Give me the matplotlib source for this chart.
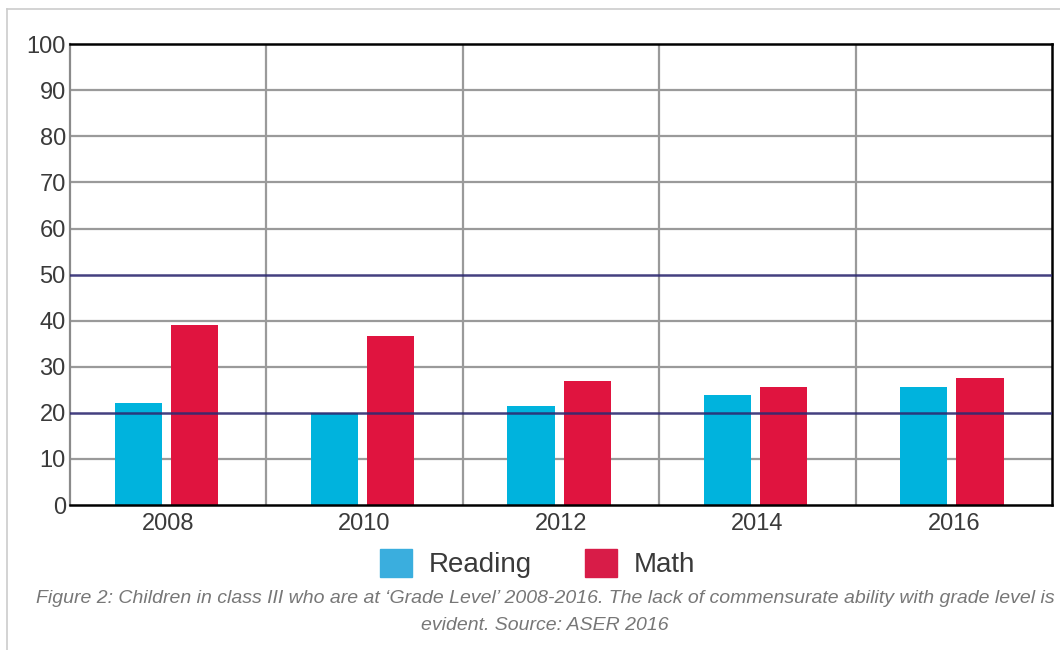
import numpy as np
import matplotlib
matplotlib.use("Agg")
from matplotlib import pyplot as plt, patches

years = ["2008", "2010", "2012", "2014", "2016"]
reading = [22.1, 20.0, 21.5, 23.9, 25.7]
math_vals = [39.0, 36.7, 27.0, 25.7, 27.6]
ref_levels = [20, 50]

sans = ["Liberation Sans", "DejaVu Sans"]
reading_col = "#00b3dd"
math_col = "#e0143f"
grid_col = "#9a9a9a"

fig = plt.figure(figsize=(10.6, 6.5), dpi=100)
ax = fig.add_axes([0.066, 0.223, 0.9265, 0.709])

x = np.arange(len(years))
w = 0.24
off = 0.143
ax.bar(x - off - 0.01, reading, width=w, color=reading_col, zorder=2)
ax.bar(x + off - 0.01, math_vals, width=w, color=math_col, zorder=2)

ax.set_xlim(-0.5, len(years) - 0.5)
ax.set_ylim(0, 100)
ax.set_yticks(np.arange(0, 101, 10))
ax.set_xticks(x)
ax.set_xticklabels(years)

# gray grid, with the two reference levels drawn in navy on top of the bars
for yv in range(10, 100, 10):
    if yv not in ref_levels:
        ax.axhline(yv, color=grid_col, lw=1.6, zorder=1)
for xv in x[:-1] + 0.5:
    ax.axvline(xv, color=grid_col, lw=1.6, zorder=1)
for yv in ref_levels:
    ax.axhline(yv, color="#2f2b72", lw=1.8, alpha=0.9, zorder=3)

for side in ["top", "bottom", "right"]:
    ax.spines[side].set_color("black")
    ax.spines[side].set_linewidth(1.8)
ax.spines["left"].set_color("#8a8a8a")
ax.spines["left"].set_linewidth(1.6)
ax.tick_params(length=0, labelsize=17, labelcolor="#3a3a3a")
ax.tick_params(axis="y", pad=3)
ax.tick_params(axis="x", pad=6)
for lab in ax.get_xticklabels() + ax.get_yticklabels():
    lab.set_family(sans)

handles = [patches.Patch(color="#3aaede", label="Reading"),
           patches.Patch(color="#d81c48", label="Math")]
fig.legend(handles=handles, loc="center", bbox_to_anchor=(0.507, 0.133),
           ncol=2, frameon=False, prop={"family": sans, "size": 20},
           handlelength=1.15, handleheight=1.15, handletextpad=0.6,
           columnspacing=1.9, labelcolor="#3a3a3a")

caption = ("Figure 2: Children in class III who are at \u2018Grade Level\u2019 2008-2016. "
           "The lack of commensurate ability with grade level is\nevident. Source: ASER 2016")
fig.text(0.514, 0.058, caption, ha="center", va="center", style="italic",
         fontsize=14, color="#777777", linespacing=1.8, family=sans)

# light frame along the top and left edge
fig.add_artist(plt.Line2D([0.0066, 0.0066], [0, 0.986], color="#cccccc", lw=1.2))
fig.add_artist(plt.Line2D([0.0066, 1.0], [0.986, 0.986], color="#cccccc", lw=1.2))

fig.savefig("out.png", dpi=100)
